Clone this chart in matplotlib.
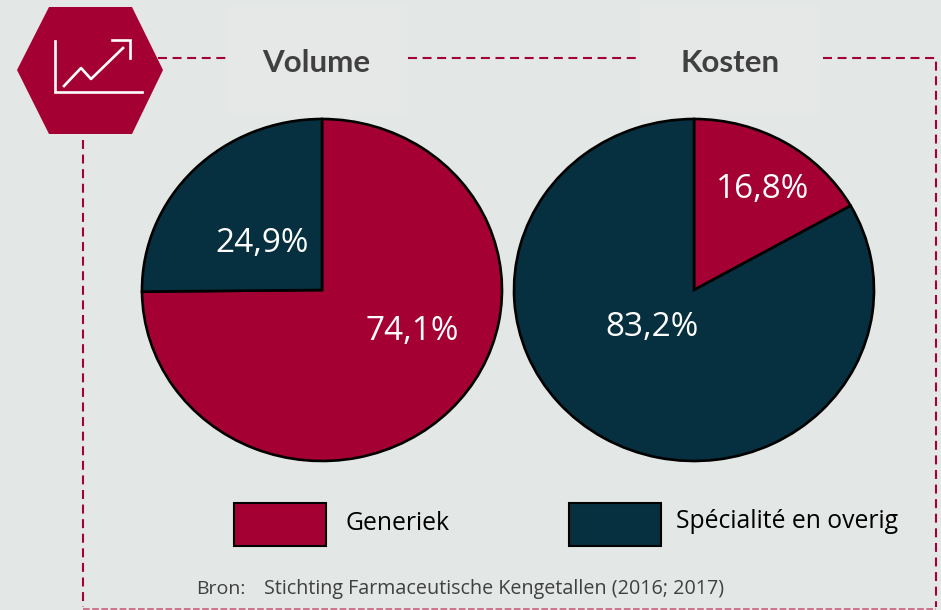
"""Generiek vs specialite pie charts, volume and cost."""

import matplotlib

matplotlib.use("Agg")

import matplotlib.pyplot as plt
from matplotlib.patches import Polygon, Rectangle

WIDTH, HEIGHT = 941, 610

RED = "#A50034"
NAVY = "#06303F"
BACKGROUND = "#E3E7E6"
TITLE_BOX = "#E6E7E7"

titles = ["Volume", "Kosten"]
series_names = ["Generiek", "Spécialité en overig"]
volume_values = [74.1, 24.9]
kosten_values = [16.8, 83.2]
volume_labels = ["74,1%", "24,9%"]
kosten_labels = ["16,8%", "83,2%"]
source_prefix = "Bron:"
source_text = "Stichting Farmaceutische Kengetallen (2016; 2017)"

plt.rcParams["font.family"] = ["Lato", "DejaVu Sans"]


def draw_pie(fig, center_x, center_y, radius_x, radius_y, values, labels, label_offsets):
    # the pie in the source is stretched sideways, so no equal aspect here
    pad = 1.02
    ax = fig.add_axes(
        [
            (center_x - radius_x * pad) / WIDTH,
            1 - (center_y + radius_y * pad) / HEIGHT,
            2 * radius_x * pad / WIDTH,
            2 * radius_y * pad / HEIGHT,
        ],
        zorder=2,
    )
    ax.pie(
        values,
        colors=[RED, NAVY],
        startangle=90,
        counterclock=False,
        radius=1.0,
        wedgeprops={"edgecolor": "black", "linewidth": 1.9},
    )
    ax.set_xlim(-pad, pad)
    ax.set_ylim(-pad, pad)
    ax.set_aspect("auto")
    ax.axis("off")
    for label, (dx, dy) in zip(labels, label_offsets):
        ax.text(
            dx / radius_x,
            -dy / radius_y,
            label,
            color="white",
            fontsize=24,
            family="Open Sans",
            ha="center",
            va="center",
        )


def dashed(ax, xs, ys):
    ax.plot(xs, ys, color=RED, linewidth=1.5, dashes=(4.3, 2.7), dash_capstyle="butt")


fig = plt.figure(figsize=(WIDTH / 100, HEIGHT / 100), dpi=100, facecolor=BACKGROUND)

# overlay in pixel coordinates for the frame, icon and legend
canvas = fig.add_axes([0, 0, 1, 1], zorder=1)
canvas.set_xlim(0, WIDTH)
canvas.set_ylim(HEIGHT, 0)
canvas.axis("off")

dashed(canvas, [158, 226], [58, 58])
dashed(canvas, [408, 640], [58, 58])
dashed(canvas, [823, 936.5, 936.5], [58, 58, 607])
dashed(canvas, [83, 83], [140, 607])
canvas.plot([83, 936], [608.5, 608.5], color="#C9607F", linewidth=1.2, dashes=(4, 1.5))

for box_x, title, title_x in zip([228, 640], titles, [316.5, 730]):
    canvas.add_patch(Rectangle((box_x, 4), 180, 113, facecolor=TITLE_BOX, edgecolor="none"))
    canvas.text(
        title_x,
        63,
        title,
        color="#404040",
        fontsize=22.5,
        fontweight="bold",
        ha="center",
        va="center",
    )

canvas.add_patch(
    Polygon(
        [(17, 70), (49, 7), (132, 7), (163, 70), (132, 134), (49, 134)],
        facecolor=RED,
        edgecolor="none",
    )
)
canvas.plot([55.5, 55.5, 142], [41, 92, 92], color="white", linewidth=1.9, solid_joinstyle="miter")
canvas.plot([64, 81, 91, 123], [86, 68, 79, 48], color="white", linewidth=1.9)
canvas.plot([112, 130, 130], [40, 40, 58], color="white", linewidth=1.9, solid_joinstyle="miter")

for box_x, color, name, text_x, text_y in zip(
    [234, 569], [RED, NAVY], series_names, [346, 676], [524, 522]
):
    canvas.add_patch(
        Rectangle((box_x, 503), 92, 43, facecolor=color, edgecolor="black", linewidth=1.5)
    )
    canvas.text(
        text_x, text_y, name, color="black", fontsize=17.8, family="Open Sans", ha="left", va="center"
    )

canvas.text(196, 589, source_prefix, color="#404040", fontsize=14, family="Open Sans", ha="left", va="center")
canvas.text(264, 589, source_text, color="#404040", fontsize=14.2, family="Open Sans", ha="left", va="center")

draw_pie(fig, 322, 290, 180, 171, volume_values, volume_labels, [(90, 41), (-60, -47)])
draw_pie(fig, 694, 290, 180, 171, kosten_values, kosten_labels, [(69, -101), (-42, 38)])

fig.savefig("out.png", dpi=100, facecolor=fig.get_facecolor())
plt.close(fig)
